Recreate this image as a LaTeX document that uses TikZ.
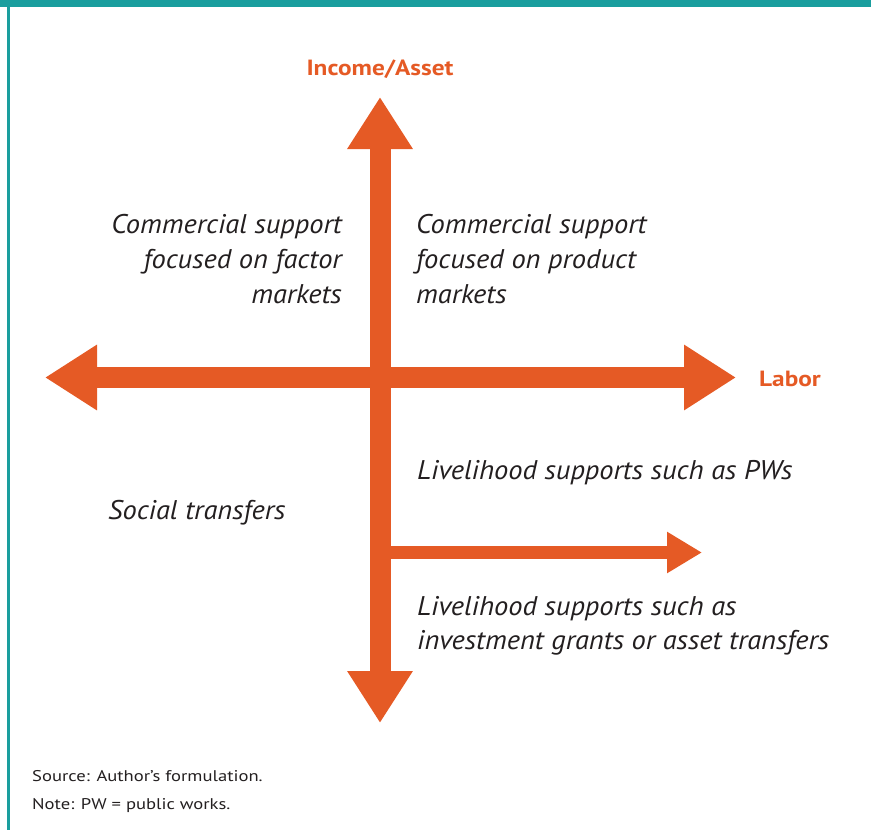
\documentclass[tikz,border=0pt]{standalone}
\usepackage{fontspec}
\setmainfont{PT Sans}
\newfontfamily\quadfont[FakeStretch=1.055]{PT Sans}
\newfontfamily\labfont[FakeStretch=1.15]{PT Sans}
\newfontfamily\notefont[FakeStretch=1.2]{PT Sans}
\usetikzlibrary{arrows.meta}
\definecolor{orng}{HTML}{E55A25}
\definecolor{teal2}{HTML}{1A9E9E}
\definecolor{txt}{HTML}{231F20}
\begin{document}
\begin{tikzpicture}[x=1pt,y=-1pt,
  quad/.style={inner sep=0pt,text=txt,font=\quadfont\fontsize{27}{32}\selectfont\itshape},
  axlabel/.style={inner sep=0pt,text=orng,font=\labfont\fontsize{22}{26}\selectfont\bfseries},
  note/.style={inner sep=0pt,text=txt,font=\notefont\fontsize{15.5}{18}\selectfont},
  bigarrow/.style={draw=orng,line width=21pt,
    arrows={Triangle[length=52pt,width=62pt]-Triangle[length=52pt,width=62pt]}},
  smallarrow/.style={draw=orng,line width=13.5pt,-{Triangle[length=35pt,width=39pt]}}]
\useasboundingbox (0,0) rectangle (871,830);
% frame
\fill[teal2] (0,0) rectangle (871,7);
\fill[teal2] (7,0) rectangle (9.5,830);
% axis coordinates
\coordinate (top) at (380,97);
\coordinate (bot) at (380,723);
\coordinate (lft) at (45,377.5);
\coordinate (rgt) at (736,377.5);
\coordinate (branch) at (380,552.5);
\coordinate (branchend) at (702,552.5);
% arrows
\draw[bigarrow] (lft) -- (rgt);
\draw[bigarrow] (bot) -- (top);
\draw[smallarrow] (branch) -- (branchend);
% axis labels
\node[axlabel,anchor=base] (income) at (380,75) {Income/Asset};
\node[axlabel,anchor=base west] (labor) at (759,386.5) {Labor};
% quadrant texts
\node[quad,anchor=base east] (q1a) at (342,233) {Commercial support};
\node[quad,anchor=base east] (q1b) at (342,268) {focused on factor};
\node[quad,anchor=base east] (q1c) at (342,303) {markets};
\node[quad,anchor=base west] (q2a) at (416,233) {Commercial support};
\node[quad,anchor=base west] (q2b) at (416,268) {focused on product};
\node[quad,anchor=base west] (q2c) at (416,303) {markets};
\node[quad,anchor=base west] (q3) at (108,519) {Social transfers};
\node[quad,anchor=base west] (q4a) at (417,479) {Livelihood supports such as PWs};
\node[quad,anchor=base west] (q4b) at (417,615) {Livelihood supports such as};
\node[quad,anchor=base west] (q4c) at (417,649) {investment grants or asset transfers};
% notes
\node[note,anchor=base west] (src) at (32,781) {Source: Author’s formulation.};
\node[note,anchor=base west] (nte) at (32,809) {Note: PW = public works.};
\end{tikzpicture}
\end{document}
